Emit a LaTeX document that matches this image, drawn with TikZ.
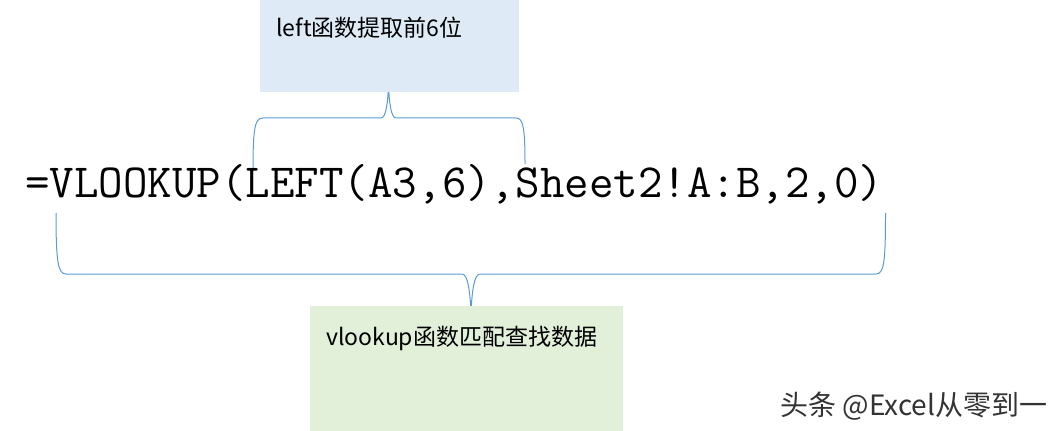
\documentclass[tikz,border=0pt]{standalone}
\usepackage{fontspec}
\setmainfont{Noto Sans CJK SC}
\definecolor{braceblue}{HTML}{5B9BD5}
\definecolor{leftfill}{HTML}{DEEBF7}
\definecolor{vlookfill}{HTML}{E2F0D9}

\begin{document}
\begin{tikzpicture}[x=0.75pt, y=-0.75pt,
        curly/.style={draw=braceblue, line width=0.75pt},
        note/.style={anchor=base west, inner sep=0pt, font=\fontsize{17.25}{20}\selectfont}]
            \useasboundingbox (0,0) rectangle (1063,431);

            % Draw the top brace (under LEFT)
            \coordinate (ls) at (253,170);
            \coordinate (lt) at (388.5,84);
            \coordinate (le) at (525,164);
            \draw[curly] (ls) .. controls (253,127) and (255,118) .. (263,118) -- (381,118)
                .. controls (386,118) and (388,102) .. (lt)
                .. controls (389,102) and (391,118) .. (396,118) -- (516,118)
                .. controls (523,118) and (525,127) .. (le);

            % Draw the bottom brace (under VLOOKUP)
            \coordinate (vs) at (56,213);
            \coordinate (vt) at (471,312);
            \coordinate (ve) at (885.5,213);
            \draw[curly] (vs) .. controls (56,262) and (58,274) .. (66,274) -- (462,274)
                .. controls (468,274) and (470,292) .. (vt)
                .. controls (472,292) and (474,274) .. (480,274) -- (876,274)
                .. controls (884,274) and (885.5,262) .. (ve);

            % Draw the two note boxes
            \fill[leftfill] (260,0) rectangle (519,92);
            \fill[vlookfill] (310,306) rectangle (623,431);

            % Draw the formula
            \node[anchor=base west, inner sep=0pt, font=\ttfamily\fontsize{35.7}{40}\selectfont]
                (formula) at (25,197) {=VLOOKUP(LEFT(A3,6),Sheet2!A:B,2,0)};

            % Draw the labels
            \node[note] (lefttext) at (276,37) {left函数提取前6位};
            \node[note] (vlooktext) at (326,345) {vlookup函数匹配查找数据};
            \node[note, font=\fontsize{21}{24}\selectfont, text=black!80] (mark) at (780,415) {头条 @Excel从零到一};

        \end{tikzpicture}
\end{document}
